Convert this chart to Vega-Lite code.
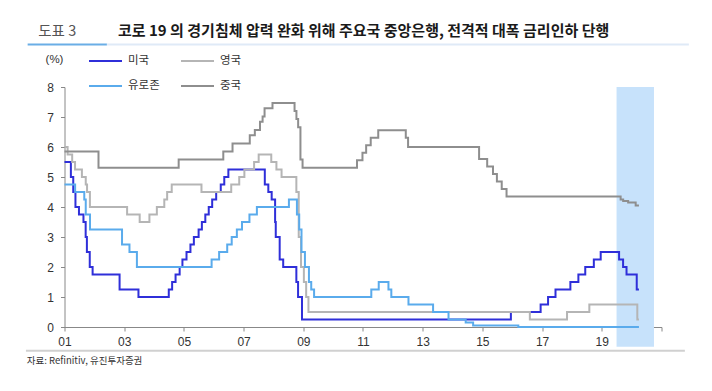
{
  "$schema": "https://vega.github.io/schema/vega-lite/v6.json",
  "autosize": {"type": "none"},
  "width": 597,
  "height": 240,
  "padding": {"left": 64.5, "top": 87, "right": 50.5, "bottom": 64},
  "background": "white",
  "config": {"view": {"stroke": null}, "font": "Noto Sans CJK KR", "axisY": {"tickCount": 10, "labelOverlap": false}},
  "title": {
    "text": "코로 19 의 경기침체 압력 완화 위해 주요국 중앙은행, 전격적 대폭 금리인하 단행",
    "anchor": "start",
    "frame": "group",
    "orient": "top",
    "dx": 53.5,
    "dy": 42,
    "offset": 20,
    "baseline": "middle",
    "font": "Noto Sans CJK KR",
    "fontSize": 15,
    "fontWeight": "bold",
    "color": "#1a1a1a"
  },
  "datasets": {
    "rates": [
      {"date": "2001-01-01", "country": "미국", "rate": 5.5},
      {"date": "2001-03-20", "country": "미국", "rate": 5.0},
      {"date": "2001-04-18", "country": "미국", "rate": 4.5},
      {"date": "2001-05-15", "country": "미국", "rate": 4.0},
      {"date": "2001-06-27", "country": "미국", "rate": 3.75},
      {"date": "2001-08-21", "country": "미국", "rate": 3.5},
      {"date": "2001-09-17", "country": "미국", "rate": 3.0},
      {"date": "2001-10-02", "country": "미국", "rate": 2.5},
      {"date": "2001-11-06", "country": "미국", "rate": 2.0},
      {"date": "2001-12-11", "country": "미국", "rate": 1.75},
      {"date": "2002-11-06", "country": "미국", "rate": 1.25},
      {"date": "2003-06-25", "country": "미국", "rate": 1.0},
      {"date": "2004-06-30", "country": "미국", "rate": 1.25},
      {"date": "2004-08-10", "country": "미국", "rate": 1.5},
      {"date": "2004-09-21", "country": "미국", "rate": 1.75},
      {"date": "2004-11-10", "country": "미국", "rate": 2.0},
      {"date": "2004-12-14", "country": "미국", "rate": 2.25},
      {"date": "2005-02-02", "country": "미국", "rate": 2.5},
      {"date": "2005-03-22", "country": "미국", "rate": 2.75},
      {"date": "2005-05-03", "country": "미국", "rate": 3.0},
      {"date": "2005-06-30", "country": "미국", "rate": 3.25},
      {"date": "2005-08-09", "country": "미국", "rate": 3.5},
      {"date": "2005-09-20", "country": "미국", "rate": 3.75},
      {"date": "2005-11-01", "country": "미국", "rate": 4.0},
      {"date": "2005-12-13", "country": "미국", "rate": 4.25},
      {"date": "2006-01-31", "country": "미국", "rate": 4.5},
      {"date": "2006-03-28", "country": "미국", "rate": 4.75},
      {"date": "2006-05-10", "country": "미국", "rate": 5.0},
      {"date": "2006-06-29", "country": "미국", "rate": 5.25},
      {"date": "2007-09-18", "country": "미국", "rate": 4.75},
      {"date": "2007-10-31", "country": "미국", "rate": 4.5},
      {"date": "2007-12-11", "country": "미국", "rate": 4.25},
      {"date": "2008-01-22", "country": "미국", "rate": 3.5},
      {"date": "2008-01-30", "country": "미국", "rate": 3.0},
      {"date": "2008-03-18", "country": "미국", "rate": 2.25},
      {"date": "2008-04-30", "country": "미국", "rate": 2.0},
      {"date": "2008-10-08", "country": "미국", "rate": 1.5},
      {"date": "2008-10-29", "country": "미국", "rate": 1.0},
      {"date": "2008-12-16", "country": "미국", "rate": 0.25},
      {"date": "2015-12-16", "country": "미국", "rate": 0.5},
      {"date": "2016-12-14", "country": "미국", "rate": 0.75},
      {"date": "2017-03-15", "country": "미국", "rate": 1.0},
      {"date": "2017-06-14", "country": "미국", "rate": 1.25},
      {"date": "2017-12-13", "country": "미국", "rate": 1.5},
      {"date": "2018-03-21", "country": "미국", "rate": 1.75},
      {"date": "2018-06-13", "country": "미국", "rate": 2.0},
      {"date": "2018-09-26", "country": "미국", "rate": 2.25},
      {"date": "2018-12-19", "country": "미국", "rate": 2.5},
      {"date": "2019-08-01", "country": "미국", "rate": 2.25},
      {"date": "2019-09-19", "country": "미국", "rate": 2.0},
      {"date": "2019-10-31", "country": "미국", "rate": 1.75},
      {"date": "2020-03-04", "country": "미국", "rate": 1.25},
      {"date": "2020-03-31", "country": "미국", "rate": 1.25},

      {"date": "2001-01-01", "country": "영국", "rate": 6.0},
      {"date": "2001-02-08", "country": "영국", "rate": 5.75},
      {"date": "2001-04-05", "country": "영국", "rate": 5.5},
      {"date": "2001-05-10", "country": "영국", "rate": 5.25},
      {"date": "2001-08-02", "country": "영국", "rate": 5.0},
      {"date": "2001-09-18", "country": "영국", "rate": 4.75},
      {"date": "2001-10-04", "country": "영국", "rate": 4.5},
      {"date": "2001-11-08", "country": "영국", "rate": 4.0},
      {"date": "2003-02-06", "country": "영국", "rate": 3.75},
      {"date": "2003-07-10", "country": "영국", "rate": 3.5},
      {"date": "2003-11-06", "country": "영국", "rate": 3.75},
      {"date": "2004-02-05", "country": "영국", "rate": 4.0},
      {"date": "2004-05-06", "country": "영국", "rate": 4.25},
      {"date": "2004-06-10", "country": "영국", "rate": 4.5},
      {"date": "2004-08-05", "country": "영국", "rate": 4.75},
      {"date": "2005-08-04", "country": "영국", "rate": 4.5},
      {"date": "2006-08-03", "country": "영국", "rate": 4.75},
      {"date": "2006-11-09", "country": "영국", "rate": 5.0},
      {"date": "2007-01-11", "country": "영국", "rate": 5.25},
      {"date": "2007-05-10", "country": "영국", "rate": 5.5},
      {"date": "2007-07-05", "country": "영국", "rate": 5.75},
      {"date": "2007-12-06", "country": "영국", "rate": 5.5},
      {"date": "2008-02-07", "country": "영국", "rate": 5.25},
      {"date": "2008-04-10", "country": "영국", "rate": 5.0},
      {"date": "2008-10-08", "country": "영국", "rate": 4.5},
      {"date": "2008-11-06", "country": "영국", "rate": 3.0},
      {"date": "2008-12-04", "country": "영국", "rate": 2.0},
      {"date": "2009-01-08", "country": "영국", "rate": 1.5},
      {"date": "2009-02-05", "country": "영국", "rate": 1.0},
      {"date": "2009-03-05", "country": "영국", "rate": 0.5},
      {"date": "2016-08-04", "country": "영국", "rate": 0.25},
      {"date": "2017-11-02", "country": "영국", "rate": 0.5},
      {"date": "2018-08-02", "country": "영국", "rate": 0.75},
      {"date": "2020-03-11", "country": "영국", "rate": 0.25},
      {"date": "2020-03-31", "country": "영국", "rate": 0.25},

      {"date": "2001-01-01", "country": "유로존", "rate": 4.75},
      {"date": "2001-05-11", "country": "유로존", "rate": 4.5},
      {"date": "2001-08-31", "country": "유로존", "rate": 4.25},
      {"date": "2001-09-18", "country": "유로존", "rate": 3.75},
      {"date": "2001-11-09", "country": "유로존", "rate": 3.25},
      {"date": "2002-12-06", "country": "유로존", "rate": 2.75},
      {"date": "2003-03-07", "country": "유로존", "rate": 2.5},
      {"date": "2003-06-06", "country": "유로존", "rate": 2.0},
      {"date": "2005-12-06", "country": "유로존", "rate": 2.25},
      {"date": "2006-03-08", "country": "유로존", "rate": 2.5},
      {"date": "2006-06-15", "country": "유로존", "rate": 2.75},
      {"date": "2006-08-09", "country": "유로존", "rate": 3.0},
      {"date": "2006-10-11", "country": "유로존", "rate": 3.25},
      {"date": "2006-12-13", "country": "유로존", "rate": 3.5},
      {"date": "2007-03-14", "country": "유로존", "rate": 3.75},
      {"date": "2007-06-13", "country": "유로존", "rate": 4.0},
      {"date": "2008-07-09", "country": "유로존", "rate": 4.25},
      {"date": "2008-10-15", "country": "유로존", "rate": 3.75},
      {"date": "2008-11-12", "country": "유로존", "rate": 3.25},
      {"date": "2008-12-10", "country": "유로존", "rate": 2.5},
      {"date": "2009-01-21", "country": "유로존", "rate": 2.0},
      {"date": "2009-03-11", "country": "유로존", "rate": 1.5},
      {"date": "2009-04-08", "country": "유로존", "rate": 1.25},
      {"date": "2009-05-13", "country": "유로존", "rate": 1.0},
      {"date": "2011-04-13", "country": "유로존", "rate": 1.25},
      {"date": "2011-07-13", "country": "유로존", "rate": 1.5},
      {"date": "2011-11-09", "country": "유로존", "rate": 1.25},
      {"date": "2011-12-14", "country": "유로존", "rate": 1.0},
      {"date": "2012-07-11", "country": "유로존", "rate": 0.75},
      {"date": "2013-05-08", "country": "유로존", "rate": 0.5},
      {"date": "2013-11-13", "country": "유로존", "rate": 0.25},
      {"date": "2014-06-11", "country": "유로존", "rate": 0.15},
      {"date": "2014-09-10", "country": "유로존", "rate": 0.05},
      {"date": "2016-03-16", "country": "유로존", "rate": 0.0},
      {"date": "2020-03-31", "country": "유로존", "rate": 0.0},

      {"date": "2001-01-01", "country": "중국", "rate": 5.85},
      {"date": "2002-02-21", "country": "중국", "rate": 5.31},
      {"date": "2004-10-29", "country": "중국", "rate": 5.58},
      {"date": "2006-04-28", "country": "중국", "rate": 5.85},
      {"date": "2006-08-19", "country": "중국", "rate": 6.12},
      {"date": "2007-03-18", "country": "중국", "rate": 6.39},
      {"date": "2007-05-19", "country": "중국", "rate": 6.57},
      {"date": "2007-07-21", "country": "중국", "rate": 6.84},
      {"date": "2007-08-22", "country": "중국", "rate": 7.02},
      {"date": "2007-09-15", "country": "중국", "rate": 7.29},
      {"date": "2007-12-21", "country": "중국", "rate": 7.47},
      {"date": "2008-09-16", "country": "중국", "rate": 7.2},
      {"date": "2008-10-09", "country": "중국", "rate": 6.93},
      {"date": "2008-10-30", "country": "중국", "rate": 6.66},
      {"date": "2008-11-27", "country": "중국", "rate": 5.58},
      {"date": "2008-12-23", "country": "중국", "rate": 5.31},
      {"date": "2010-10-20", "country": "중국", "rate": 5.56},
      {"date": "2010-12-26", "country": "중국", "rate": 5.81},
      {"date": "2011-02-09", "country": "중국", "rate": 6.06},
      {"date": "2011-04-06", "country": "중국", "rate": 6.31},
      {"date": "2011-07-07", "country": "중국", "rate": 6.56},
      {"date": "2012-06-08", "country": "중국", "rate": 6.31},
      {"date": "2012-07-06", "country": "중국", "rate": 6.0},
      {"date": "2014-11-22", "country": "중국", "rate": 5.6},
      {"date": "2015-03-01", "country": "중국", "rate": 5.35},
      {"date": "2015-05-11", "country": "중국", "rate": 5.1},
      {"date": "2015-06-28", "country": "중국", "rate": 4.85},
      {"date": "2015-08-26", "country": "중국", "rate": 4.6},
      {"date": "2015-10-24", "country": "중국", "rate": 4.35},
      {"date": "2019-08-20", "country": "중국", "rate": 4.25},
      {"date": "2019-09-20", "country": "중국", "rate": 4.2},
      {"date": "2019-11-20", "country": "중국", "rate": 4.15},
      {"date": "2020-02-20", "country": "중국", "rate": 4.05},
      {"date": "2020-03-31", "country": "중국", "rate": 4.05}
    ],
    "band": [{"start": "2019-07-01", "end": "2020-10-01"}]
  },
  "layer": [
    {
      "data": {"name": "band"},
      "mark": {"type": "rect", "color": "#c7e2fb", "clip": false},
      "encoding": {
        "x": {
          "field": "start",
          "type": "temporal",
          "scale": {
            "type": "utc",
            "domain": [{"year": 2001, "month": 1, "date": 1, "utc": true}, {"year": 2021, "month": 1, "date": 1, "utc": true}]
          },
          "axis": {
            "title": null,
            "values": [
              {"year": 2001, "utc": true}, {"year": 2003, "utc": true}, {"year": 2005, "utc": true},
              {"year": 2007, "utc": true}, {"year": 2009, "utc": true}, {"year": 2011, "utc": true},
              {"year": 2013, "utc": true}, {"year": 2015, "utc": true}, {"year": 2017, "utc": true},
              {"year": 2019, "utc": true}, {"year": 2021, "utc": true}
            ],
            "labelExpr": "utcyear(datum.value) > 2020 ? '' : utcFormat(datum.value, '%y')",
            "grid": false,
            "tickSize": 4,
            "labelPadding": 5,
            "domainColor": "#888888",
            "tickColor": "#888888",
            "labelFont": "Liberation Sans",
            "labelFontSize": 12,
            "labelColor": "#333333",
            "labelFlush": false,
            "labelOverlap": false
          }
        },
        "x2": {"field": "end"},
        "y": {
          "datum": 8,
          "type": "quantitative",
          "scale": {"domain": [0, 8], "nice": false},
          "axis": {
            "title": "(%)",
            "titleAngle": 0,
            "titleX": -10.5,
            "titleY": -28,
            "titleAlign": "center",
            "titleBaseline": "middle",
            "titleFont": "Liberation Sans",
            "titleFontSize": 11.5,
            "titleFontWeight": "normal",
            "titleColor": "#333333",
            "values": [0, 1, 2, 3, 4, 5, 6, 7, 8],
            "tickCount": 10,
            "grid": false,
            "tickSize": 4,
            "labelPadding": 7,
            "domainColor": "#888888",
            "tickColor": "#888888",
            "labelFont": "Liberation Sans",
            "labelFontSize": 12,
            "labelColor": "#333333",
            "labelOverlap": false
          }
        },
        "y2": {"datum": -0.66}
      }
    },
    {
      "data": {"name": "rates"},
      "mark": {"type": "line", "interpolate": "step-after", "strokeWidth": 2},
      "encoding": {
        "x": {"field": "date", "type": "temporal"},
        "y": {"field": "rate", "type": "quantitative"},
        "color": {
          "field": "country",
          "type": "nominal",
          "scale": {
            "domain": ["미국", "영국", "유로존", "중국"],
            "range": ["#2f2fd9", "#b5b5b5", "#5aabec", "#8e8e8e"]
          },
          "legend": {
            "title": null,
            "orient": "none",
            "legendX": 23.5,
            "legendY": -43.5,
            "columns": 2,
            "direction": "horizontal",
            "symbolType": "stroke",
            "symbolSize": 1089,
            "symbolStrokeWidth": 2,
            "labelFont": "Noto Sans CJK KR",
            "labelFontSize": 11.5,
            "labelColor": "#333333",
            "labelOffset": 5,
            "columnPadding": 17,
            "rowPadding": 2,
            "padding": 0
          }
        }
      }
    },
    {
      "data": {"values": [{}]},
      "mark": {"type": "rule", "color": "#6aaee6", "strokeWidth": 2, "clip": false},
      "encoding": {
        "x": {"datum": {"year": 1999, "month": 10, "date": 8, "utc": true}, "type": "temporal"},
        "x2": {"datum": {"year": 2002, "month": 6, "date": 4, "utc": true}},
        "y": {"datum": 9.42, "type": "quantitative"}
      }
    },
    {
      "data": {"values": [{}]},
      "mark": {"type": "rule", "color": "#dfeaf7", "strokeWidth": 2, "clip": false},
      "encoding": {
        "x": {"datum": {"year": 2002, "month": 6, "date": 4, "utc": true}, "type": "temporal"},
        "x2": {"datum": {"year": 2021, "month": 12, "date": 2, "utc": true}},
        "y": {"datum": 9.42, "type": "quantitative"}
      }
    },
    {
      "data": {"values": [{}]},
      "mark": {"type": "rule", "color": "#d0d0d0", "strokeWidth": 2, "clip": false},
      "encoding": {
        "x": {"datum": {"year": 1999, "month": 9, "date": 17, "utc": true}, "type": "temporal"},
        "x2": {"datum": {"year": 2021, "month": 10, "date": 14, "utc": true}},
        "y": {"datum": -0.79, "type": "quantitative"}
      }
    },
    {
      "data": {"values": [{}]},
      "mark": {"type": "text", "text": "도표 3", "align": "left", "baseline": "middle", "font": "Noto Sans CJK KR", "fontSize": 14.5, "color": "#555555", "clip": false},
      "encoding": {
        "x": {"datum": {"year": 2000, "month": 2, "date": 15, "utc": true}, "type": "temporal"},
        "y": {"datum": 9.82, "type": "quantitative"}
      }
    },
    {
      "data": {"values": [{}]},
      "mark": {"type": "text", "text": "자료: Refinitiv, 유진투자증권", "align": "left", "baseline": "middle", "font": "Noto Sans CJK KR", "fontSize": 9.5, "color": "#333333", "clip": false},
      "encoding": {
        "x": {"datum": {"year": 1999, "month": 9, "date": 28, "utc": true}, "type": "temporal"},
        "y": {"datum": -1.12, "type": "quantitative"}
      }
    }
  ]
}
